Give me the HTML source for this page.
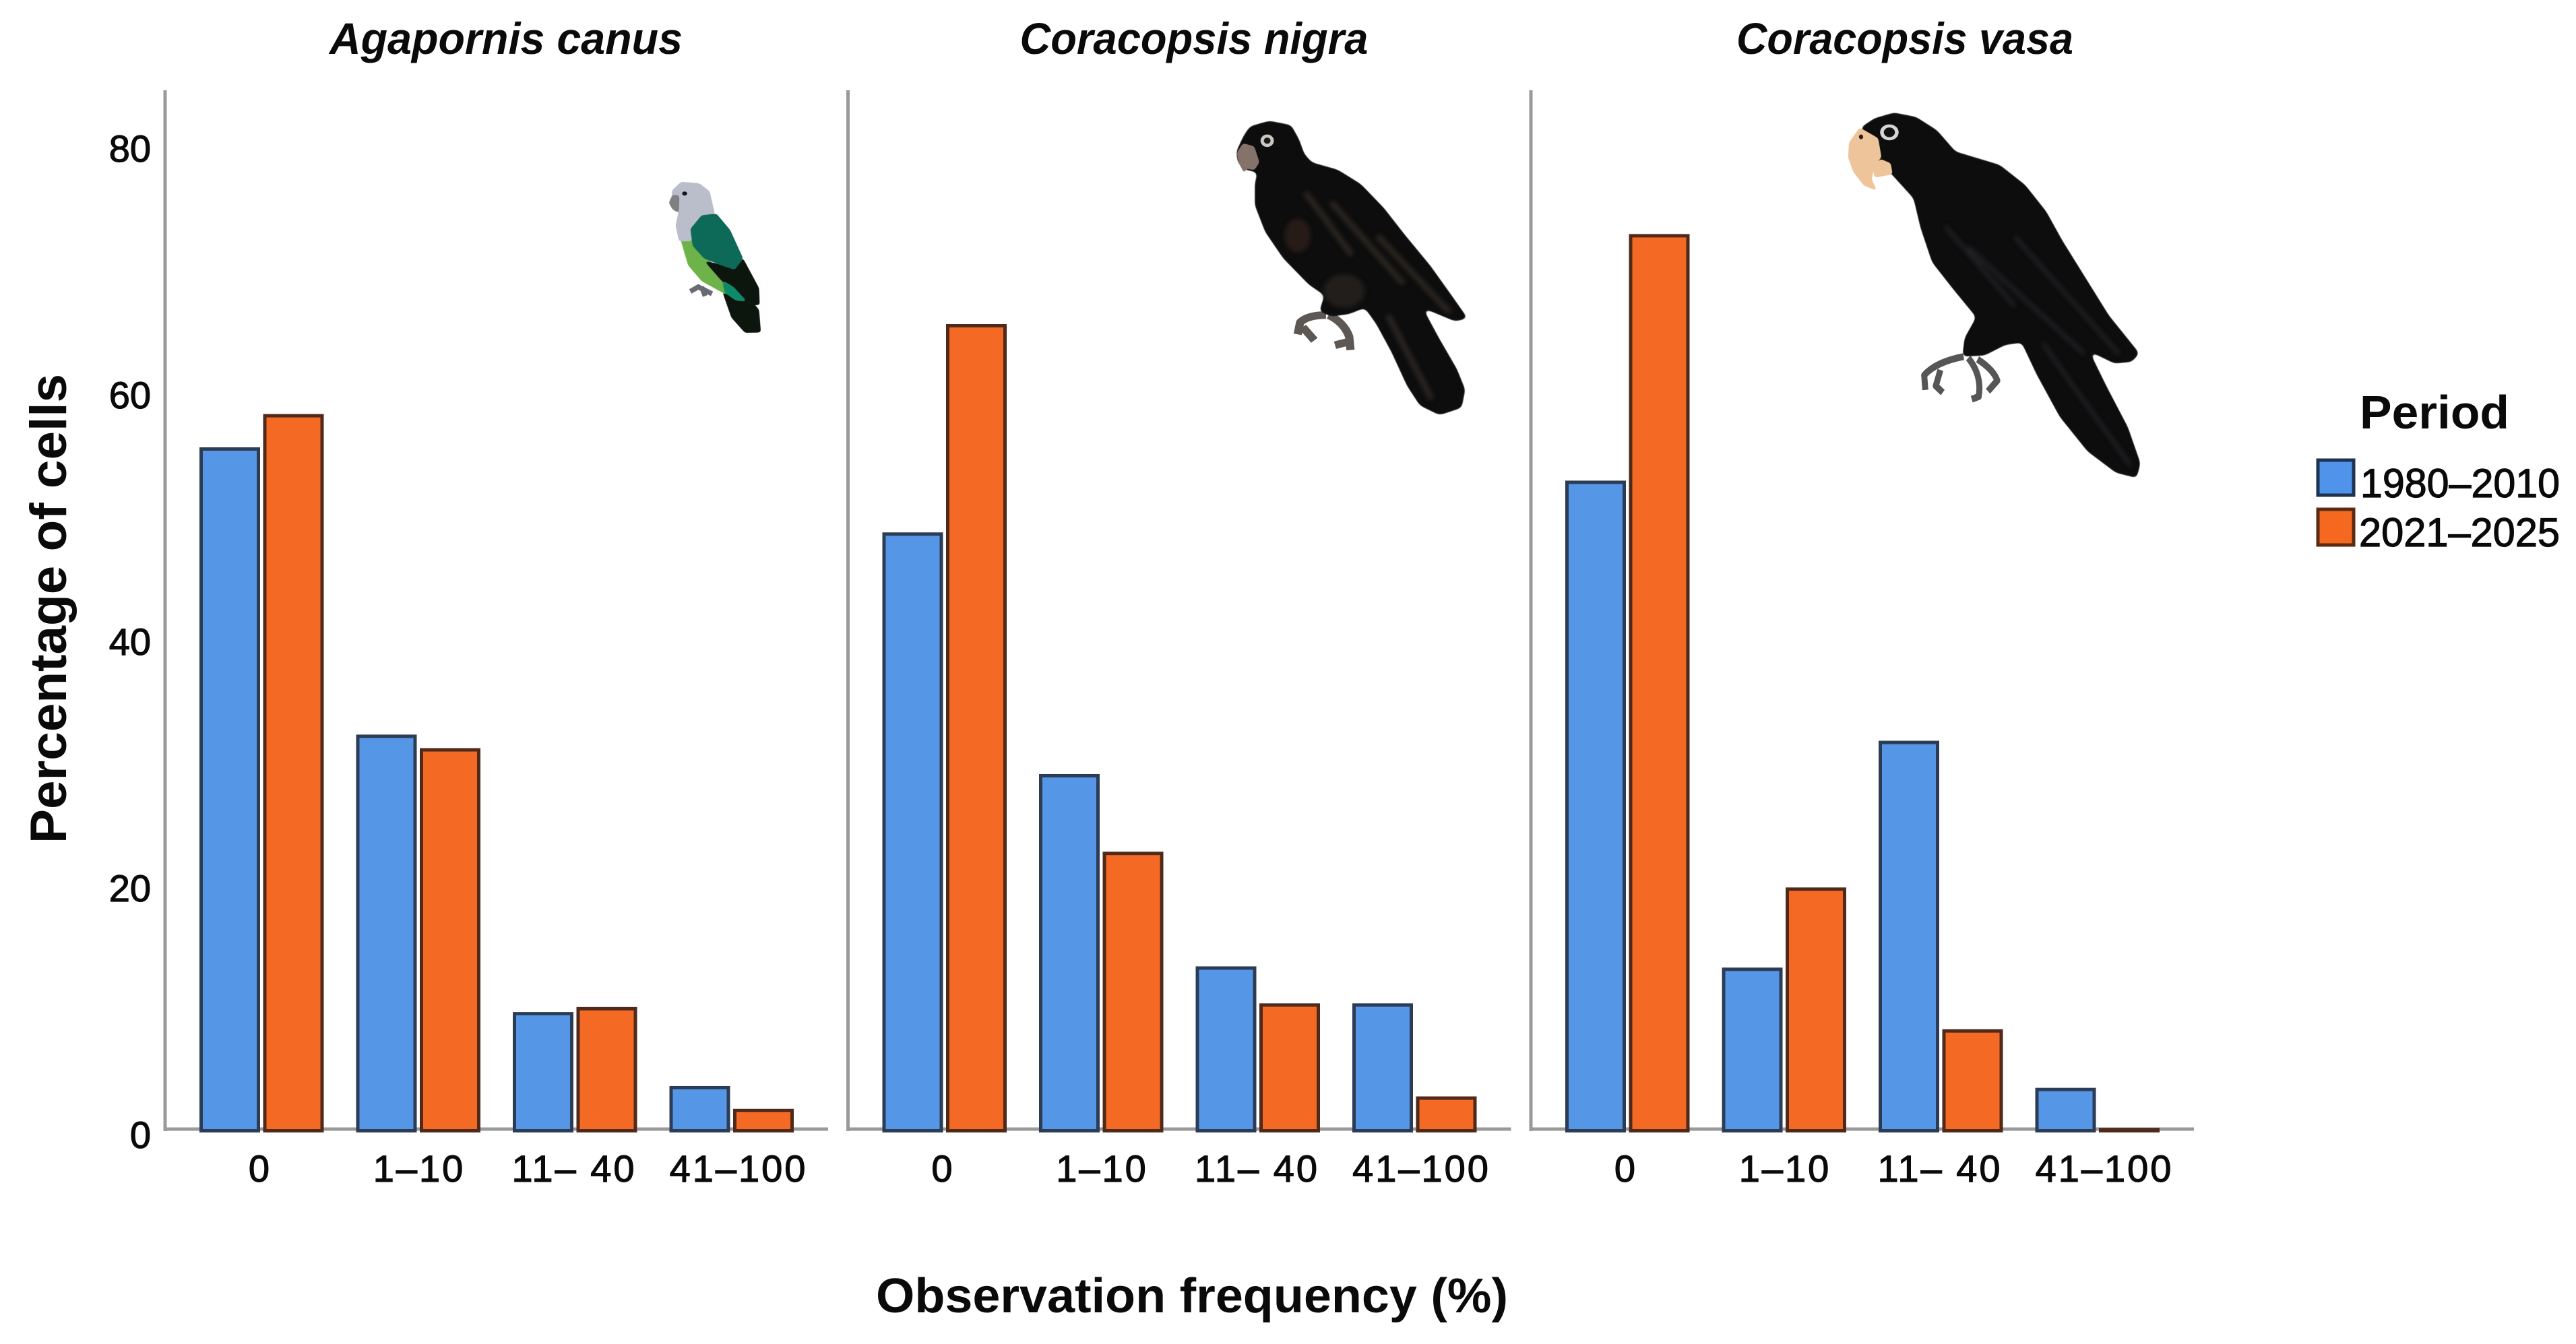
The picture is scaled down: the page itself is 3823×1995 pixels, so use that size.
<!DOCTYPE html>
<html lang="en">
<head>
<meta charset="utf-8">
<title>Observation frequency by period</title>
<style>
html,body{margin:0;padding:0;background:#fff;width:3823px;height:1995px;overflow:hidden}
svg{display:block}
text{font-family:"Liberation Sans",Arial,sans-serif;fill:#0a0a0a}
.num{stroke:#0a0a0a;stroke-width:1.2px}
</style>
</head>
<body>
<svg id="chart" xmlns="http://www.w3.org/2000/svg" width="3823" height="1995" viewBox="0 0 3823 1995">
  <defs>
    <filter id="soft" x="-20%" y="-20%" width="140%" height="140%"><feGaussianBlur stdDeviation="10"/></filter>
    <filter id="round" x="-15%" y="-15%" width="130%" height="130%">
      <feGaussianBlur stdDeviation="11"/>
      <feComponentTransfer><feFuncA type="linear" slope="7" intercept="-3"/></feComponentTransfer>
    </filter>
    <filter id="roundSmall" x="-25%" y="-25%" width="150%" height="150%">
      <feGaussianBlur stdDeviation="6"/>
      <feComponentTransfer><feFuncA type="linear" slope="6" intercept="-2.5"/></feComponentTransfer>
    </filter>
  </defs>
  <rect width="3823" height="1995" fill="#fff"/>

  <g id="axes"></g>
  <g id="marks"></g>
  <g id="labels"></g>

  <text transform="translate(98,1252) rotate(-90)" font-size="76" font-weight="700" textLength="697" lengthAdjust="spacingAndGlyphs">Percentage of cells</text>
  <text x="1300" y="1948" font-size="72" font-weight="700" textLength="938" lengthAdjust="spacingAndGlyphs">Observation frequency (%)</text>

  <!-- Agapornis canus illustration -->
  <g transform="translate(940,240) scale(0.338)">
    <path d="M250 570 L285 550 L345 580 M300 550 L315 590" fill="none" stroke="#6a6a72" stroke-width="22"/>
    <polygon filter="url(#roundSmall)" fill="#0b1310" points="390,570 450,585 510,600 552,650 560,750 490,752 430,685"/>
    <polygon filter="url(#roundSmall)" fill="#6db34a" points="205,335 265,300 330,430 430,510 455,590 400,580 300,525 240,455"/>
    <polygon filter="url(#roundSmall)" fill="#babdca" points="170,125 210,88 290,95 335,130 358,230 275,268 255,350 200,350 185,280 198,222 165,190"/>
    <polygon filter="url(#roundSmall)" fill="#7f7f84" points="172,145 202,148 200,226 172,210 155,180"/>
    <ellipse cx="225" cy="140" rx="11" ry="9" fill="#101522"/>
    <polygon filter="url(#roundSmall)" fill="#07120f" points="310,435 400,455 482,425 552,555 555,630 500,630 440,575 380,515"/>
    <polygon filter="url(#roundSmall)" fill="#0c6b58" points="250,295 300,235 365,228 425,300 482,425 445,475 385,455 310,425 260,370"/>
    <polygon filter="url(#roundSmall)" fill="#118a6a" points="390,520 440,550 500,615 450,610 400,575"/>
  </g>

  <!-- Coracopsis nigra illustration -->
  <g transform="translate(1700,100) scale(0.3827,0.357)">
    <path d="M700 1030 Q630 1030 600 1060 L590 1110 M610 1080 L655 1135 M710 1030 Q770 1060 790 1120 L795 1175 M790 1140 L735 1155" fill="none" stroke="#5d5854" stroke-width="32" stroke-linejoin="round"/>
    <polygon filter="url(#round)" fill="#0c0909" points="480,222 565,240 596,300 616,360 645,395 745,425 835,485 925,585 1005,695 1105,825 1185,945 1250,1044 1200,1056 1075,1000 1138,1125 1208,1255 1240,1340 1226,1416 1140,1446 1064,1406 1014,1324 954,1184 894,1066 850,1000 790,1026 720,1036 674,1014 694,948 634,904 534,794 464,684 424,574 424,484 434,436 386,426 358,396 352,350 380,285 405,245"/>
    <g filter="url(#soft)" opacity="0.7">
      <path d="M620 520 L800 780 M720 560 L1000 900 M900 700 L1180 1020 M940 1030 L1110 1380" stroke="#3a302b" stroke-width="22" fill="none"/>
      <ellipse cx="590" cy="700" rx="50" ry="70" fill="#33241e"/>
      <ellipse cx="770" cy="930" rx="80" ry="70" fill="#2c2522"/>
    </g>
    <polygon filter="url(#roundSmall)" fill="#85726a" points="378,315 422,328 442,395 422,428 390,420 385,445 362,398 354,355"/>
    <circle cx="472" cy="305" r="26" fill="#c9c7c2"/>
    <circle cx="472" cy="305" r="13" fill="#1b1816"/>
  </g>

  <!-- Coracopsis vasa illustration -->
  <g transform="translate(2680,130) scale(0.3444,0.3954)">
    <path d="M680 1010 Q560 1030 510 1080 L515 1135 M580 1060 L560 1120 L590 1145 M700 1015 Q760 1080 745 1160 L715 1170 M740 1020 Q810 1060 825 1100 L785 1140" fill="none" stroke="#565656" stroke-width="26" stroke-linejoin="round"/>
    <polygon filter="url(#round)" fill="#0d0d0f" points="380,94 475,110 565,160 645,240 835,290 945,365 1036,465 1106,575 1206,715 1306,855 1438,998 1404,1030 1330,1036 1222,990 1298,1125 1388,1275 1442,1410 1426,1466 1336,1446 1214,1366 1094,1236 994,1076 930,958 860,966 770,1006 674,1010 684,940 734,862 634,756 544,656 494,526 464,416 370,326 300,265 236,150 296,115"/>
    <g filter="url(#soft)" opacity="0.8">
      <path d="M600 520 L900 820 M700 600 L1200 1000 M900 560 L1350 1000 M1020 960 L1400 1420" stroke="#2b2b30" stroke-width="14" fill="none"/>
    </g>
    <polygon filter="url(#roundSmall)" fill="#eec59a" points="232,150 312,190 326,262 296,292 284,345 308,388 250,368 204,316 182,262 186,206"/>
    <polygon filter="url(#roundSmall)" fill="#eec59a" points="322,268 366,284 374,326 296,338 286,298"/>
    <circle cx="238" cy="185" r="9" fill="#2a1f1a"/>
    <ellipse cx="360" cy="168" rx="40" ry="30" fill="#d6d6d6"/>
    <ellipse cx="360" cy="168" rx="24" ry="18" fill="#111"/>
  </g>

  <!-- Legend -->
  <g>
    <text x="3502" y="636" font-size="70" font-weight="700" textLength="222" lengthAdjust="spacingAndGlyphs">Period</text>
    <rect x="3440" y="683" width="53" height="52" fill="#4f94ea" stroke="#1f3350" stroke-width="5"/>
    <text class="num" x="3503" y="738" font-size="60" textLength="296" lengthAdjust="spacingAndGlyphs">1980–2010</text>
    <rect x="3440" y="756" width="53" height="53" fill="#f4691f" stroke="#5a2a14" stroke-width="5"/>
    <text class="num" x="3501" y="811" font-size="60" textLength="298" lengthAdjust="spacingAndGlyphs">2021–2025</text>
  </g>
</svg>

<script>
const species = ["Agapornis canus", "Coracopsis nigra", "Coracopsis vasa"];
const categories = ["0", "1–10", "11– 40", "41–100"];
const periods = ["1980–2010", "2021–2025"];
const yTicks = [0, 20, 40, 60, 80];

const agapornisEarly = [55.3, 32.0, 9.5, 3.5];
const agapornisLate = [58.0, 30.9, 9.9, 1.65];
const nigraEarly = [48.4, 28.8, 13.2, 10.2];
const nigraLate = [65.3, 22.5, 10.2, 2.65];
const vasaEarly = [52.6, 13.1, 31.5, 3.35];
const vasaLate = [72.6, 19.6, 8.1, 0.1];

const seriesByPanel = [
  [agapornisEarly, agapornisLate],
  [nigraEarly, nigraLate],
  [vasaEarly, vasaLate]
];

const NS = "http://www.w3.org/2000/svg";
const axes = document.getElementById("axes");
const marks = document.getElementById("marks");
const labels = document.getElementById("labels");

const fills = ["#5596e6", "#f46a25"];
const strokes = ["#2c3c55", "#4f2a1b"];
const panelWidth = 984;
const panelStep = 1013.5;
const barWidth = 85;
const seriesGap = 94.5;
const groupStep = 232.5;

function yScale(v) { return 1678.5 - v * 18.3; }
function panelX(p) { return 245 + p * panelStep; }
function barX(p, g, s) { return panelX(p) + 53.5 + g * groupStep + s * seriesGap; }
function labelX(p, g) { return panelX(p) + [141, 377, 607, 851][g]; }
function titleX(p) { return [751, 1772, 2827][p]; }
function titleWidth(p) { return [524, 517, 500][p]; }

function make(tag, parent, props, text) {
  const el = document.createElementNS(NS, tag);
  Object.keys(props).forEach(function (k) { el.setAttribute(k, props[k]); });
  if (text !== undefined) el.textContent = text;
  parent.appendChild(el);
  return el;
}

species.forEach(function (name, p) {
  const x0 = panelX(p);

  const vAxis = make("line", axes, { x1: x0, x2: x0, y1: 134, y2: 1679, stroke: "#9a9a9a", "stroke-width": 5 });
  
  

  const hAxis = make("line", axes, { x1: x0, x2: x0 + panelWidth, y1: 1676, y2: 1676, stroke: "#9a9a9a", "stroke-width": 5 });
  
  

  const title = make("text", labels, {
    x: titleX(p), y: 80, "font-size": 66, "font-weight": 700, "font-style": "italic",
    "text-anchor": "middle", textLength: titleWidth(p), lengthAdjust: "spacingAndGlyphs"
  }, name);
  
  

  categories.forEach(function (cat, g) {
    seriesByPanel[p].forEach(function (values, s) {
      const top = yScale(values[g]);
      const bar = make("rect", marks, {
        x: barX(p, g, s), y: top, width: barWidth, height: Math.max(0, yScale(0) - top),
        fill: fills[s], stroke: strokes[s], "stroke-width": 5
      });
      
      
      make("title", bar, {}, name + ", " + cat + ", " + periods[s] + ": " + values[g] + "%");
    });

    const tick = make("text", labels, {
      class: "num", x: labelX(p, g), y: 1754, "font-size": 56, "text-anchor": "middle", "letter-spacing": 3
    }, cat);
    
    
  });
});

yTicks.forEach(function (t) {
  const label = make("text", labels, {
    class: "num", x: 224, y: yScale(t) + 25.5, "font-size": 56, "text-anchor": "end"
  }, String(t));
  
  
});
</script>
</body>
</html>
